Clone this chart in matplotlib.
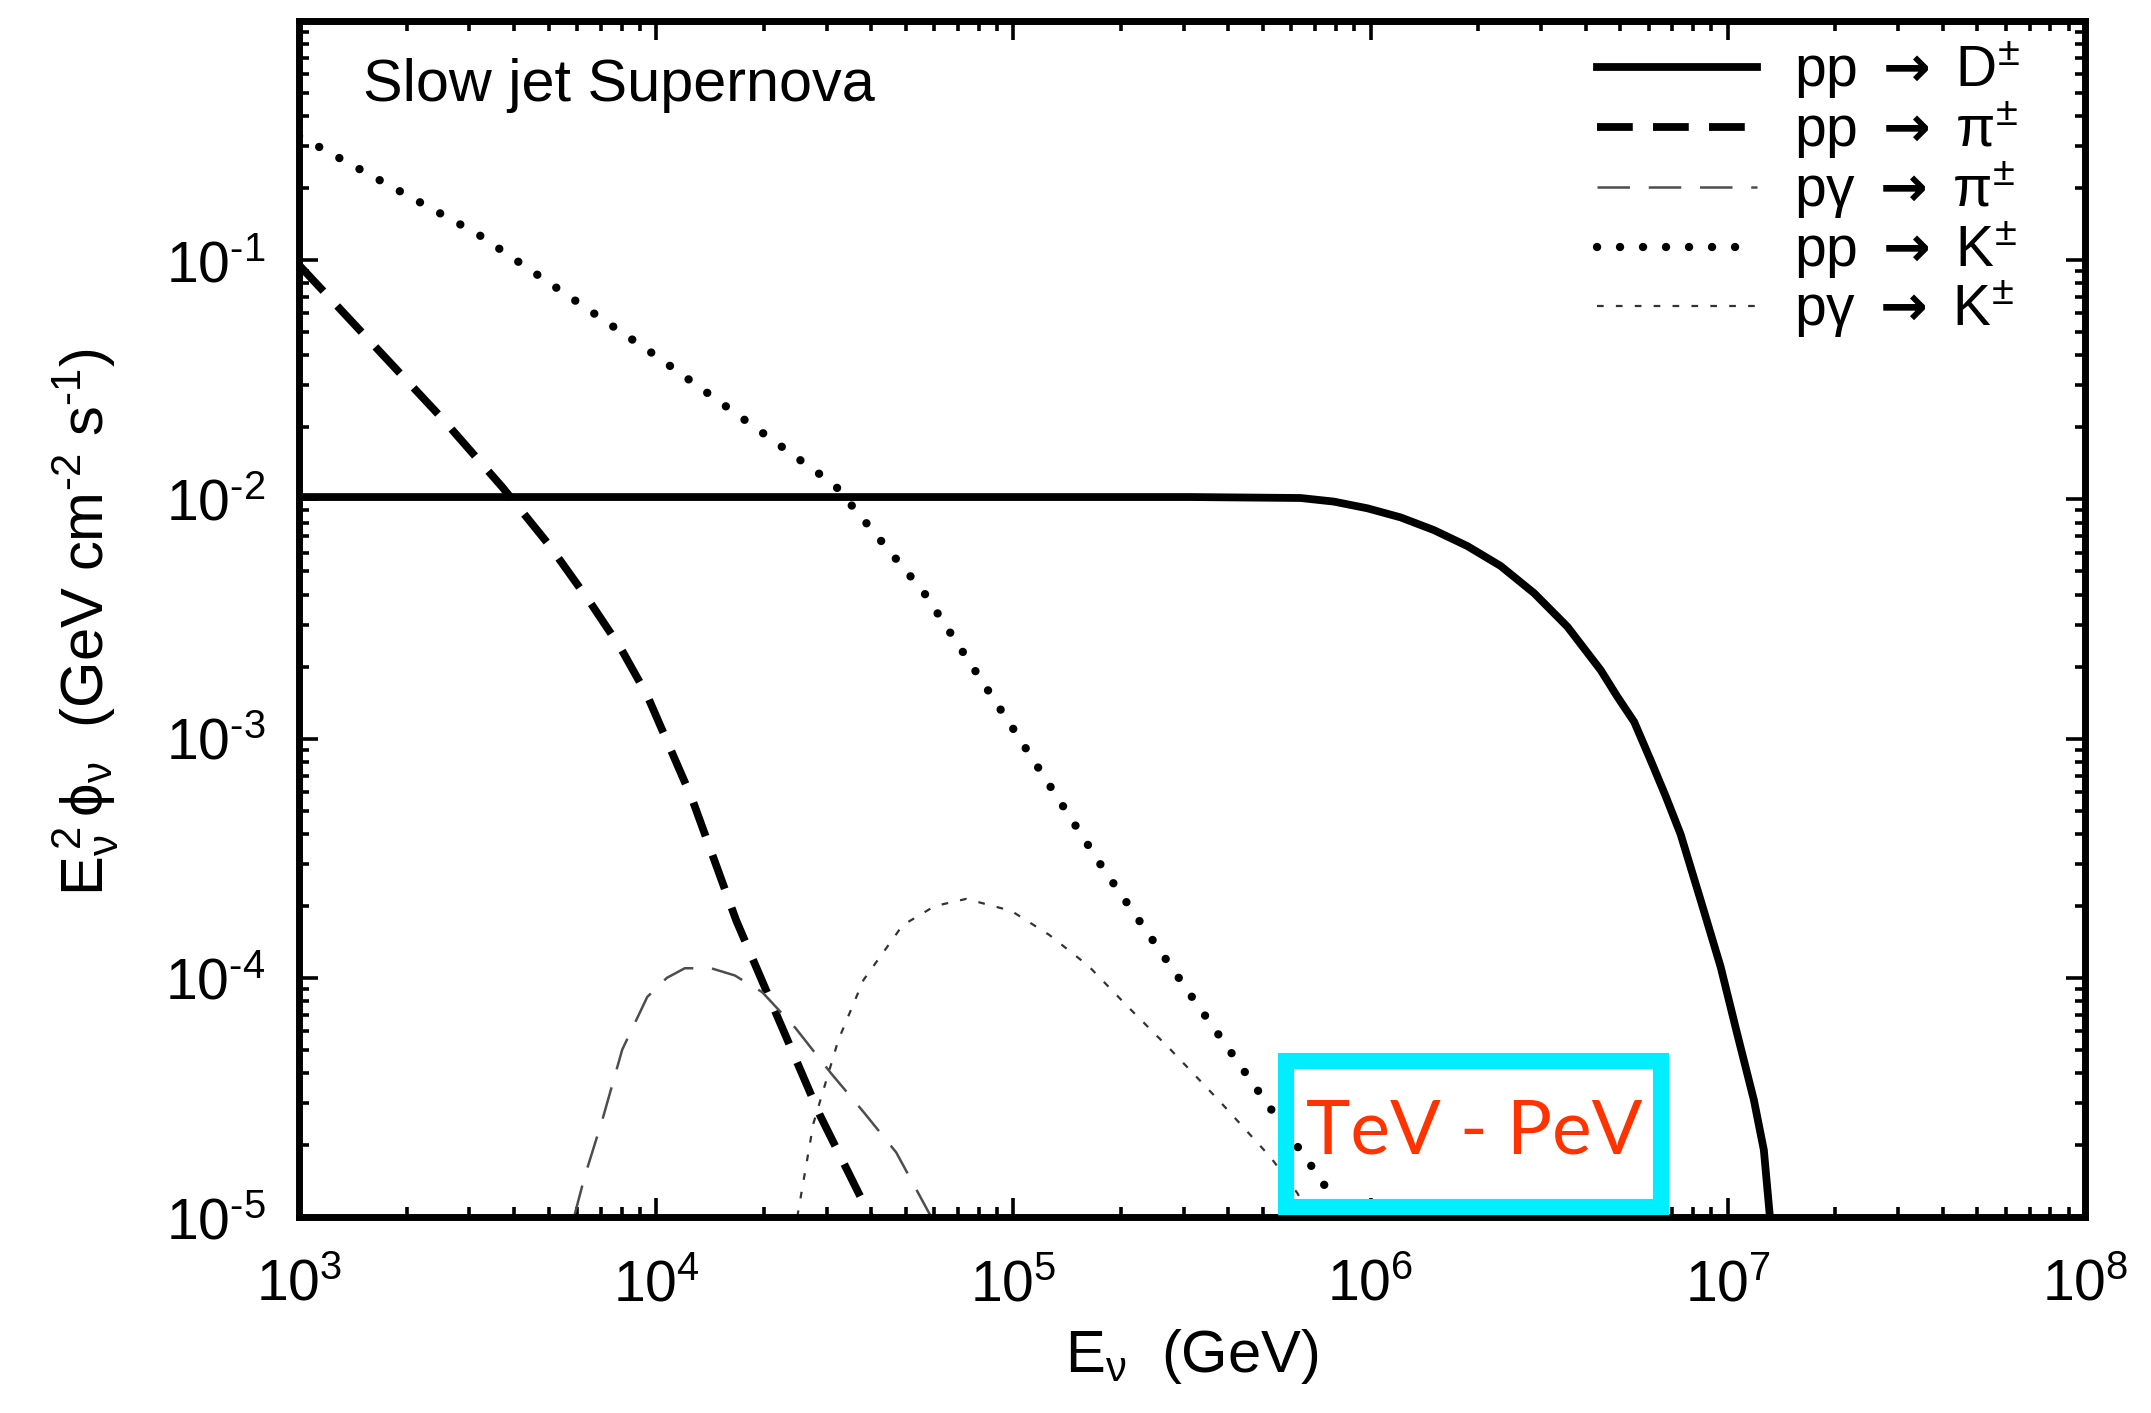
import numpy as np
import matplotlib.pyplot as plt
from matplotlib.patches import Rectangle

plt.rcParams['font.family'] = ['Liberation Sans', 'DejaVu Sans']
plt.rcParams['mathtext.fontset'] = 'custom'
plt.rcParams['mathtext.rm'] = 'Liberation Sans'
plt.rcParams['mathtext.it'] = 'Liberation Sans:italic'
plt.rcParams['mathtext.bf'] = 'DejaVu Sans:bold'
plt.rcParams['mathtext.fallback'] = 'stixsans'

# curves, as log10(E / GeV) and log10(E^2 phi)
log_e_D = [3.0, 4.0, 5.0, 5.5, 5.804, 5.897, 5.991, 6.084, 6.177, 6.271, 6.364,
           6.458, 6.551, 6.644, 6.691, 6.738, 6.784, 6.826, 6.868, 6.924, 6.98,
           7.026, 7.073, 7.101, 7.118]
log_f_D = [-1.99, -1.99, -1.99, -1.99, -1.994, -2.009, -2.037, -2.075, -2.128,
           -2.195, -2.278, -2.392, -2.532, -2.713, -2.825, -2.93, -3.09, -3.24,
           -3.40, -3.675, -3.954, -4.232, -4.51, -4.72, -5.0]

log_e_pi_pp = [3.0, 3.2, 3.4, 3.57, 3.7, 3.815, 3.9, 3.975, 4.1, 4.224, 4.333,
               4.457, 4.6]
log_f_pi_pp = [-1.02, -1.34, -1.66, -1.95, -2.19, -2.43, -2.62, -2.82, -3.25,
               -3.76, -4.14, -4.57, -5.0]

log_e_pi_pg = [3.77, 3.80, 3.85, 3.905, 3.975, 4.03, 4.08, 4.154, 4.22, 4.297,
               4.39, 4.49, 4.58, 4.672, 4.77]
log_f_pi_pg = [-5.0, -4.83, -4.59, -4.30, -4.08, -4.00, -3.96, -3.96, -3.99,
               -4.06, -4.21, -4.40, -4.56, -4.73, -5.0]

log_e_K_pp = [3.0, 3.5, 4.0, 4.5, 4.75, 5.0, 5.25, 5.5, 5.75, 5.85, 5.93]
log_f_K_pp = [-0.48, -0.89, -1.40, -1.94, -2.39, -2.96, -3.54, -4.08, -4.61,
              -4.82, -5.0]

log_e_K_pg = [4.395, 4.44, 4.51, 4.58, 4.69, 4.78, 4.868, 4.994, 5.1, 5.21,
              5.32, 5.44, 5.58, 5.72, 5.795, 5.83]
log_f_K_pg = [-5.0, -4.61, -4.26, -4.01, -3.78, -3.70, -3.67, -3.72, -3.82,
              -3.95, -4.12, -4.30, -4.52, -4.75, -4.90, -5.0]

arrow = ' $\\mathbf{\\rightarrow}$ '
labels = ['pp' + arrow + 'D$^{\\pm}$', 'pp' + arrow + 'π$^{\\pm}$',
          'pγ' + arrow + 'π$^{\\pm}$', 'pp' + arrow + 'K$^{\\pm}$',
          'pγ' + arrow + 'K$^{\\pm}$']

xtick_exp = [3, 4, 5, 6, 7, 8]
ytick_exp = [-5, -4, -3, -2, -1]


def sup(e):
    # gnuplot-style exponent with a short hyphen
    if e < 0:
        return '10$^{\\text{-}%d}$' % -e
    return '10$^{%d}$' % e


fig = plt.figure(figsize=(10.755, 7.065), dpi=200)
ax = fig.add_axes([0.1390, 0.1387, 0.8303, 0.8464])

def pw(a):
    return 10 ** np.array(a)

ax.plot(pw(log_e_D), pw(log_f_D), color='black', lw=2.8, label=labels[0])
ax.plot(pw(log_e_pi_pp), pw(log_f_pi_pp), color='black', lw=2.8,
        dashes=(4.6, 2.6), label=labels[1])
ax.plot(pw(log_e_pi_pg), pw(log_f_pi_pg), color='0.3', lw=0.9,
        dashes=(13, 7.5), label=labels[2])
ax.plot(pw(log_e_K_pp), pw(log_f_K_pp), color='black', lw=3.0,
        dashes=(0.01, 2.75), dash_capstyle='round', label=labels[3])
ax.plot(pw(log_e_K_pg), pw(log_f_K_pg), color='0.2', lw=0.8,
        dashes=(3, 5.5), label=labels[4])

ax.set_xscale('log')
ax.set_yscale('log')
ax.set_xlim(1e3, 1e8)
ax.set_ylim(1e-5, 1)

ax.set_xticks([10.0 ** e for e in xtick_exp])
ax.set_xticklabels([sup(e) for e in xtick_exp])
ax.set_yticks([10.0 ** e for e in ytick_exp])
ax.set_yticklabels([sup(e) for e in ytick_exp])
ax.xaxis.set_minor_locator(plt.LogLocator(base=10, subs=np.arange(2, 10), numticks=20))
ax.yaxis.set_minor_locator(plt.LogLocator(base=10, subs=np.arange(2, 10), numticks=20))
ax.xaxis.set_minor_formatter(plt.NullFormatter())
ax.yaxis.set_minor_formatter(plt.NullFormatter())

ax.tick_params(which='both', direction='in', top=True, right=True, width=1.3)
ax.tick_params(which='major', length=7, labelsize=20.5)
ax.tick_params(which='minor', length=3.6)
ax.tick_params(axis='x', which='major', pad=15)
ax.tick_params(axis='y', which='major', pad=12)
for s in ax.spines.values():
    s.set_linewidth(2.5)

ax.text(0.036, 0.946, 'Slow jet Supernova', transform=ax.transAxes,
        fontsize=21.4, va='center', ha='left')

ax.legend(loc='upper left', bbox_to_anchor=(0.727, 0.984), frameon=False,
          fontsize=20.5, handlelength=2.8, handletextpad=0.65, borderpad=0,
          borderaxespad=0, labelspacing=-0.025)

fig.text(0.554, 0.040, '$\\mathrm{E}_{\\mathrm{\\nu}}$  (GeV)', fontsize=21.5,
         ha='center', va='center')
fig.text(0.040, 0.560,
         '$\\mathrm{E}_{\\mathrm{\\nu}}^{\\,2}\\,\\mathrm{\\phi}_{\\mathrm{\\nu}}$'
         '  (GeV cm$^{\\text{-}2}$ s$^{\\text{-}1}$)',
         fontsize=21.5, rotation=90, ha='center', va='center')

# highlighted energy window
ax.add_patch(Rectangle((0.5526, 0.0084), 0.21, 0.122, transform=ax.transAxes,
                       fill=False, edgecolor='#00EEFF', lw=5.8, clip_on=False,
                       zorder=5))
ax.text(0.658, 0.071, 'TeV - PeV', transform=ax.transAxes, color='#FF3300',
        fontsize=27, ha='center', va='center', zorder=6,
        family=['Lato', 'DejaVu Sans'])

fig.savefig('out.png', dpi=200)
